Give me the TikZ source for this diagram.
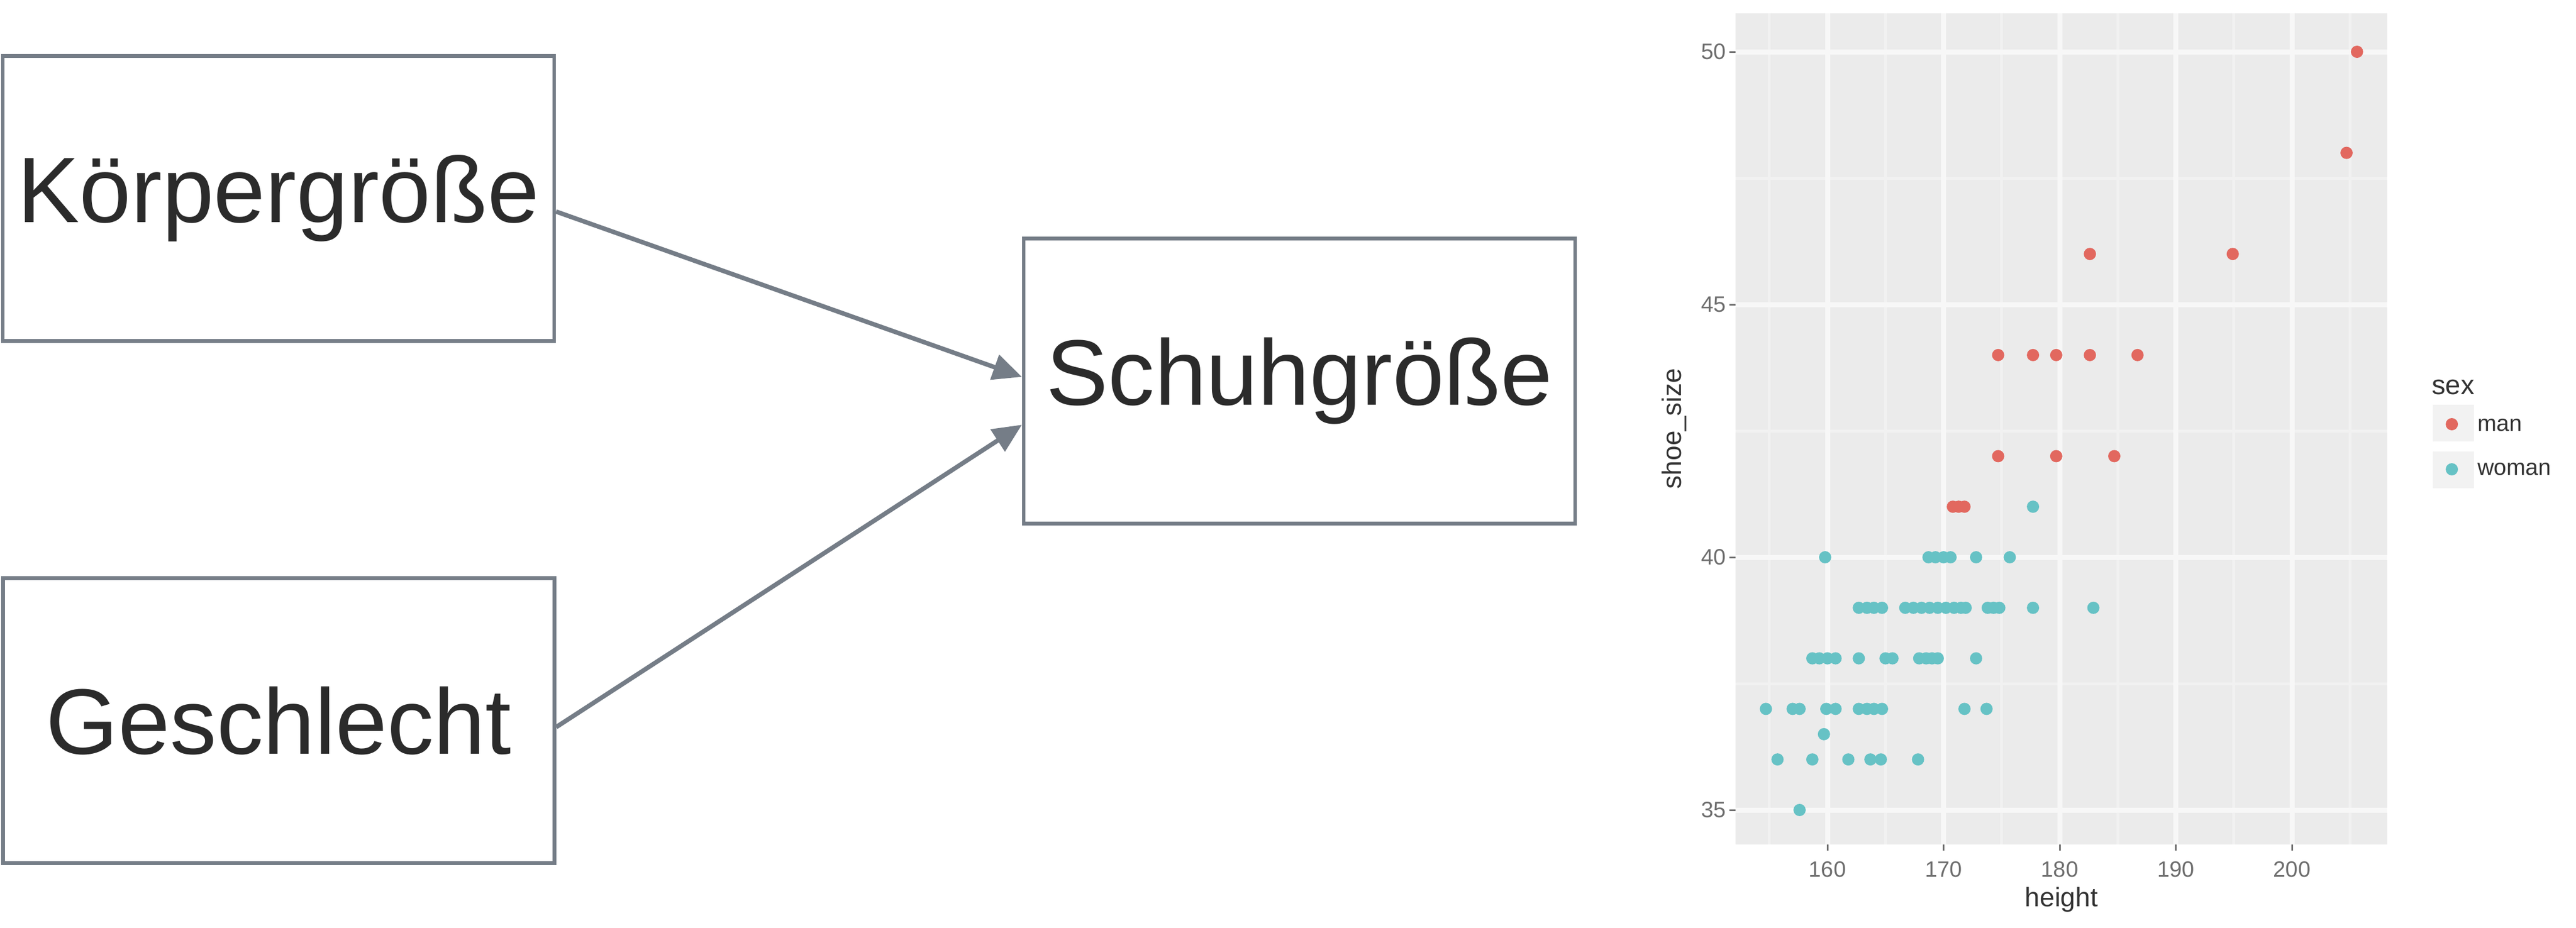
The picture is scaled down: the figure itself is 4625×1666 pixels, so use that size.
\documentclass[tikz,border=0pt]{standalone}
\usepackage{fontspec}
\setmainfont{Liberation Sans}
\usetikzlibrary{arrows.meta}
\definecolor{boxc}{HTML}{757D87}
\definecolor{txtc}{HTML}{2B2B2B}
\definecolor{panelc}{HTML}{EBEBEB}
\definecolor{gridmaj}{HTML}{F7F7F7}
\definecolor{gridmin}{HTML}{F1F1F1}
\definecolor{manc}{HTML}{E2685F}
\definecolor{womc}{HTML}{66C2C5}
\definecolor{axtxt}{HTML}{6E6E6E}
\definecolor{axtitle}{HTML}{333333}
\definecolor{keyc}{HTML}{F2F2F2}
\begin{document}
\begin{tikzpicture}[x=1pt,y=-1pt,
  varbox/.style={draw=boxc, line width=6.5pt, fill=white, rectangle,
    minimum width=990pt, minimum height=512pt, inner sep=0pt,
    text=txtc, font=\fontsize{167}{200}\selectfont},
  causal/.style={draw=boxc, line width=8pt, -{Triangle[length=52pt,width=46pt]}},
  ticklab/.style={text=axtxt, inner sep=0pt, font=\fontsize{40}{48}\selectfont},
  axtit/.style={text=axtitle, inner sep=0pt, font=\fontsize{48}{58}\selectfont},
  legtxt/.style={text=axtitle, inner sep=0pt, font=\fontsize{41}{50}\selectfont},
  majgrid/.style={draw=gridmaj, line width=9pt},
  mingrid/.style={draw=gridmin, line width=5pt},
  tickmark/.style={draw=axtxt, line width=3pt},
  ptman/.style={fill=manc},
  ptwom/.style={fill=womc}]
\useasboundingbox (0,0) rectangle (4625,1666);
\fill[white] (0,0) rectangle (4625,1666);

% ---------- causal diagram ----------
\node[varbox] (k) at (500,356.5) {Körpergröße};
\node[varbox] (g) at (500.5,1294.5) {Geschlecht};
\node[varbox] (s) at (2333,684.5) {Schuhgröße};

\draw[causal] ([yshift=-23.5pt]k.east) -- ([yshift=7.5pt]s.west);
\draw[causal] ([yshift=-11.5pt]g.east) -- ([yshift=-78.5pt]s.west);

% ---------- scatter plot ----------
\fill[panelc] (3116,24) rectangle (4286,1517);
% minor grid
\foreach \h in {155,165,175,185,195,205}
  \draw[mingrid] ({3281+(\h-160)*20.85},24) -- ({3281+(\h-160)*20.85},1517);
\foreach \s in {37.5,42.5,47.5}
  \draw[mingrid] (3116,{1455-(\s-35)*90.8}) -- (4286,{1455-(\s-35)*90.8});
% major grid
\foreach \h in {160,170,180,190,200}
  \draw[majgrid] ({3281+(\h-160)*20.85},24) -- ({3281+(\h-160)*20.85},1517);
\foreach \s in {35,40,45,50}
  \draw[majgrid] (3116,{1455-(\s-35)*90.8}) -- (4286,{1455-(\s-35)*90.8});

% ticks and tick labels
\foreach \s in {35,40,45,50}{
  \draw[tickmark] (3105,{1455-(\s-35)*90.8}) -- (3116,{1455-(\s-35)*90.8});
  \node[ticklab, anchor=east] (yl\s) at (3099,{1455-(\s-35)*90.8}) {\s};
}
\foreach \h in {160,170,180,190,200}{
  \draw[tickmark] ({3281+(\h-160)*20.85},1517) -- ({3281+(\h-160)*20.85},1528);
  \node[ticklab, anchor=north] (xl\h) at ({3281+(\h-160)*20.85},1547) {\h};
}
\node[axtit] (xtitle) at (3701,1616) {height};
\node[axtit, rotate=90] (ytitle) at (3006,770) {shoe\_size};

% points: women
\foreach \h/\s in {
  177.7/41,
  159.8/40, 168.7/40, 169.3/40, 170/40, 170.6/40, 172.8/40, 175.7/40,
  162.7/39, 163.4/39, 164/39, 164.7/39, 166.7/39, 167.4/39, 168.1/39, 168.8/39,
  169.5/39, 170.2/39, 170.9/39, 171.5/39, 171.9/39, 173.8/39, 174.3/39, 174.8/39,
  177.7/39, 182.9/39,
  158.7/38, 159.3/38, 160/38, 160.7/38, 162.7/38, 165/38, 165.6/38,
  167.9/38, 168.5/38, 169/38, 169.5/38, 172.8/38,
  154.7/37, 157/37, 157.6/37, 159.9/37, 160.7/37, 162.7/37, 163.4/37, 164/37,
  164.7/37, 171.8/37, 173.7/37,
  159.7/36.5,
  155.7/36, 158.7/36, 161.8/36, 163.7/36, 164.6/36, 167.8/36,
  157.6/35}
  \fill[ptwom] ({3281+(\h-160)*20.85},{1455-(\s-35)*90.8}) circle[radius=11pt];
% points: men
\foreach \h/\s in {
  205.6/50, 204.7/48, 182.6/46, 194.9/46,
  174.7/44, 177.7/44, 179.7/44, 182.6/44, 186.7/44,
  174.7/42, 179.7/42, 184.7/42,
  170.8/41, 171.3/41, 171.8/41}
  \fill[ptman] ({3281+(\h-160)*20.85},{1455-(\s-35)*90.8}) circle[radius=11pt];

% legend
\node[axtit, anchor=west, font=\fontsize{49}{58}\selectfont] (legtitle) at (4366,696) {sex};
\fill[keyc] (4368,727) rectangle (4442,793);
\fill[keyc] (4368,811) rectangle (4442,877);
\fill[ptman] (4402,762) circle[radius=11pt];
\fill[ptwom] (4402,843) circle[radius=11pt];
\node[legtxt, anchor=west] (legman) at (4448,764) {man};
\node[legtxt, anchor=west] (legwoman) at (4448,843) {woman};
\end{tikzpicture}
\end{document}
